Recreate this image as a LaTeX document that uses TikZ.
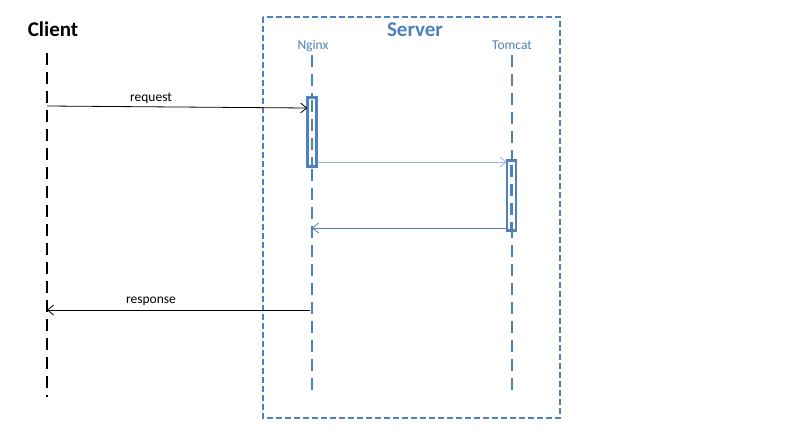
\documentclass[tikz,border=0pt]{standalone}
\usepackage{fontspec}
\setmainfont{Carlito}
\usetikzlibrary{arrows.meta}
\definecolor{sblue}{HTML}{4F81BD}
\definecolor{lblue}{HTML}{95B3D7}
\begin{document}
\begin{tikzpicture}[x=1pt,y=-1pt,
  life/.style={line width=2.8pt,dash pattern=on 12pt off 7pt},
  actbox/.style={draw=sblue,line width=1.6pt,fill=white,minimum width=8pt,inner sep=0pt},
  msg/.style={line width=0.8pt,-{Straight Barb[length=6pt,width=10pt]}},
  lbl/.style={font=\fontsize{13.5}{15}\selectfont,inner sep=0pt,anchor=base},
  hdr/.style={font=\fontsize{21}{23}\selectfont\bfseries,inner sep=0pt,anchor=base}]
\useasboundingbox (0,0) rectangle (800,436);
% server frame
\draw[sblue,line width=1.6pt,dash pattern=on 6pt off 3pt] (263,17) rectangle (560,418);
\node[hdr,text=sblue] (server) at (415,37) {Server};
\node[hdr] (client) at (53,37) {Client};
\node[lbl,text=sblue] (nginx) at (313,50) {Nginx};
\node[lbl,text=sblue] (tomcat) at (512,50) {Tomcat};
% lifelines
\coordinate (ct) at (47,53); \coordinate (cb) at (47,397);
\coordinate (nt) at (312,55); \coordinate (nb) at (312,397);
\coordinate (tt) at (512,55); \coordinate (tb) at (512,397);
\draw[life,black] (ct) -- (cb);
\draw[life,sblue] (nt) -- (nb);
\draw[life,sblue] (tt) -- (tb);
% activations
\node[actbox,minimum height=68pt] (nact) at (312,132) {};
\node[actbox,minimum height=69pt] (tact) at (511.5,195.5) {};
\draw[life,sblue] (312,100) -- (312,166);
\draw[life,sblue] (511.5,165) -- (511.5,230);
\draw[draw=sblue,line width=1.6pt] (nact.north west) rectangle (nact.south east);
\draw[draw=sblue,line width=1.6pt] (tact.north west) rectangle (tact.south east);
% messages
\coordinate (rq) at (47,106);
\draw[msg,black] (rq) -- (nact.west |- 0,108);
\node[lbl] (rqlbl) at (151,101) {request};
\draw[msg,lblue] (nact.east |- 0,162) -- (tact.west |- 0,162);
\draw[msg,sblue] (tact.west |- 0,228) -- (312,228);
\coordinate (rs) at (47,310);
\draw[msg,black] (310,310) -- (rs);
\node[lbl] (rslbl) at (151,303) {response};
\end{tikzpicture}
\end{document}
